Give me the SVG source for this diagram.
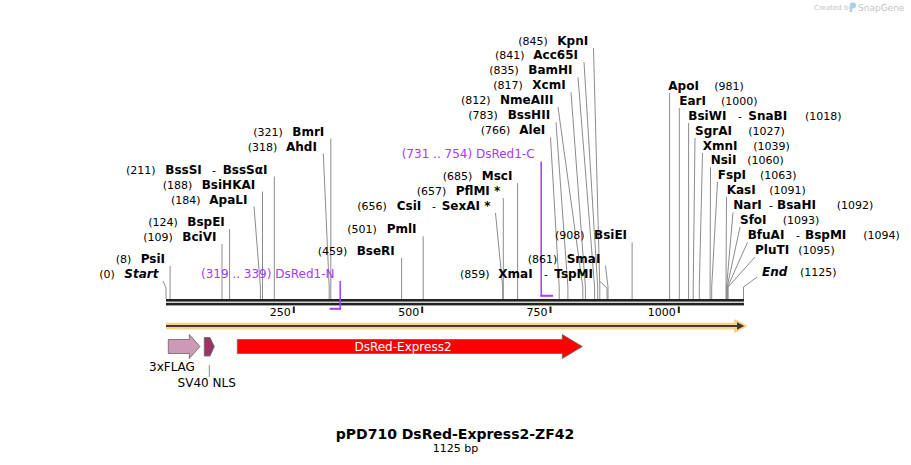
<svg xmlns="http://www.w3.org/2000/svg" width="911" height="465" viewBox="0 0 911 465">
<style>
text{font-family:"DejaVu Sans","Verdana",sans-serif;fill:#000}
.n{font-size:11px}
.b{font-size:12px;font-weight:bold}
.bi{font-size:12px;font-weight:bold;font-style:italic}
.p{font-size:12px;fill:#a03cff}
.ln{stroke:#8c8c8c;stroke-width:1;fill:none}
.pl{stroke:#a03cff;fill:none}
.tk{font-size:11px;text-anchor:end}
.ft{stroke:#666;stroke-width:0.8}
</style>
<rect width="911" height="465" fill="#fff"/>
<g id="watermark">
<text x="814" y="10" style="font-size:7px;fill:#c4c4c4">Created by</text>
<path d="M850,12 V4.5 Q850,2.5 852,2.5 H853 Q856,2.5 856,5.5 Q856,8.5 853,8.5 H852.2 V12 Z" fill="#a9d0ec"/>
<text x="858" y="11" style="font-size:9px;fill:#c4c4c4">SnapGene</text>
</g>
<g id="connectors">
<polyline class="ln" points="163,281 166,288 166,299"/>
<polyline class="ln" points="170.1,266 170.1,299"/>
<polyline class="ln" points="222,244 222,299"/>
<polyline class="ln" points="229.6,229 229.6,299"/>
<polyline class="ln" points="254,206.5 260.4,287 260.4,299"/>
<polyline class="ln" points="262.5,191.5 262.5,299"/>
<polyline class="ln" points="274.3,176.5 274.3,299"/>
<polyline class="ln" points="323.3,153.5 329.2,287 329.2,299"/>
<polyline class="ln" points="330.8,138.5 330.8,299"/>
<polyline class="ln" points="401.6,258 401.6,299"/>
<polyline class="ln" points="423.2,236.3 423.2,299"/>
<polyline class="ln" points="495.5,213 502.7,287 502.7,299"/>
<polyline class="ln" points="503.3,198 503.3,299"/>
<polyline class="ln" points="517.6,183 517.6,299"/>
<polyline class="ln" points="599.5,281 607,288 607,299"/>
<polyline class="ln" points="605.5,265.7 608,287 608,299"/>
<polyline class="ln" points="632.1,242.3 632.1,299"/>
<polyline class="ln" points="593.5,48 599.8,287 599.8,299"/>
<polyline class="ln" points="584,62.3 597.7,287 597.7,299"/>
<polyline class="ln" points="578,77.3 594.6,287 594.6,299"/>
<polyline class="ln" points="571,92.3 585.4,287 585.4,299"/>
<polyline class="ln" points="558,107 582.8,287 582.8,299"/>
<polyline class="ln" points="556,122.3 567.9,287 567.9,299"/>
<polyline class="ln" points="550.5,137.3 559.2,287 559.2,299"/>
<polyline class="ln" points="669.6,93 669.6,299"/>
<polyline class="ln" points="679.3,108 679.3,299"/>
<polyline class="ln" points="688.6,123 688.6,299"/>
<polyline class="ln" points="695,138 693.2,287 693.2,299"/>
<polyline class="ln" points="702.5,153 699.3,287 699.3,299"/>
<polyline class="ln" points="710.5,167.3 710.1,287 710.1,299"/>
<polyline class="ln" points="717.5,182 711.7,287 711.7,299"/>
<polyline class="ln" points="726.5,197 726,287 726,299"/>
<polyline class="ln" points="733,212.3 726.6,287 726.6,299"/>
<polyline class="ln" points="740,227 727.1,287 727.1,299"/>
<polyline class="ln" points="747.5,242.3 727.6,287 727.6,299"/>
<polyline class="ln" points="755,257 728.1,287 728.1,299"/>
<polyline class="ln" points="757,277 743.5,287 743.5,299"/>
<line class="ln" x1="209.3" y1="365" x2="209.3" y2="377"/>
</g>
<g id="backbone">
<rect x="166" y="299" width="578" height="2.6" fill="#222"/>
<rect x="166" y="302.8" width="578" height="2.6" fill="#222"/>
</g>
<g id="primer-DsRed1-N">
<path class="pl" stroke-width="1.5" d="M340.2,281 V309.5"/>
<path class="pl" stroke-width="2" d="M329.7,308.8 H341"/>
<text class="p" x="201" y="278">(319 .. 339)  DsRed1-N</text>
</g>
<g id="primer-DsRed1-C">
<path class="pl" stroke-width="1.5" d="M541.2,161.5 V296.5"/>
<path class="pl" stroke-width="2" d="M540.5,295.8 H553"/>
<text class="p" x="401.7" y="158.3">(731 .. 754)  DsRed1-C</text>
</g>
<g id="ruler">
<rect x="292.8" y="306.5" width="2" height="6.5" fill="#222"/>
<rect x="421.2" y="306.5" width="2" height="6.5" fill="#222"/>
<rect x="549.5" y="306.5" width="2" height="6.5" fill="#222"/>
<rect x="677.8" y="306.5" width="2" height="6.5" fill="#222"/>
<text class="tk" x="290.8" y="316">250</text>
<text class="tk" x="419.2" y="316">500</text>
<text class="tk" x="547.5" y="316">750</text>
<text class="tk" x="675.8" y="316">1000</text>
</g>
<g id="orf-arrow">
<path d="M166,326 H738" stroke="#fcd083" stroke-width="6.5" fill="none"/>
<path d="M735,320.5 L746,326 L735,331.5 Z" fill="#fcd083" stroke="#fcd083" stroke-width="2" stroke-linejoin="round"/>
<path d="M166,326 H738" stroke="#3f3a33" stroke-width="2" fill="none"/>
<path d="M737,322.3 L744.3,326 L737,329.7 Z" fill="#3f3a33"/>
</g>
<g id="feature-3xFLAG">
<polygon class="ft" points="168.3,339.5 189.3,339.5 189.3,334.5 200,346.5 189.3,358.5 189.3,353.5 168.3,353.5" fill="#cc9ab6"/>
<text x="149" y="371" style="font-size:12px">3xFLAG</text>
</g>
<g id="feature-SV40-NLS">
<polygon class="ft" points="204.3,337.5 210,337.5 214.3,346.5 210,356 204.3,356" fill="#9b3462"/>
<text x="206.7" y="387.3" style="font-size:12px;text-anchor:middle">SV40 NLS</text>
</g>
<g id="feature-DsRed-Express2">
<polygon class="ft" points="237.3,339.5 562.3,339.5 562.3,334.5 582.3,346.5 562.3,358.5 562.3,353.5 237.3,353.5" fill="#ff0000"/>
<text x="403" y="350.5" style="font-size:12px;fill:#fff;text-anchor:middle">DsRed-Express2</text>
</g>
<g id="site-Start"><text class="n" x="99.3" y="278">(0)</text><text class="bi" x="124.3" y="278">Start</text></g>
<g id="site-PsiI"><text class="n" x="115.7" y="263">(8)</text><text class="b" x="140.7" y="263">PsiI</text></g>
<g id="site-BciVI"><text class="n" x="143.3" y="241">(109)</text><text class="b" x="182.3" y="241">BciVI</text></g>
<g id="site-BspEI"><text class="n" x="148.3" y="226">(124)</text><text class="b" x="187.3" y="226">BspEI</text></g>
<g id="site-ApaLI"><text class="n" x="171" y="203.5">(184)</text><text class="b" x="209.3" y="203.5">ApaLI</text></g>
<g id="site-BsiHKAI"><text class="n" x="162.7" y="188.5">(188)</text><text class="b" x="201.7" y="188.5">BsiHKAI</text></g>
<g id="site-BssSI"><text class="n" x="126" y="173.5">(211)</text><text class="b" x="165.3" y="173.5">BssSI</text><text class="n" x="212" y="173.5">-</text><text class="b" x="222.7" y="173.5">BssSαI</text></g>
<g id="site-AhdI"><text class="n" x="247.7" y="150.5">(318)</text><text class="b" x="286" y="150.5">AhdI</text></g>
<g id="site-BmrI"><text class="n" x="253.3" y="135.5">(321)</text><text class="b" x="292.3" y="135.5">BmrI</text></g>
<g id="site-BseRI"><text class="n" x="317.7" y="255">(459)</text><text class="b" x="356.7" y="255">BseRI</text></g>
<g id="site-PmlI"><text class="n" x="347.3" y="233.3">(501)</text><text class="b" x="386.7" y="233.3">PmlI</text></g>
<g id="site-CsiI"><text class="n" x="357.3" y="210">(656)</text><text class="b" x="396.7" y="210">CsiI</text><text class="n" x="432" y="210">-</text><text class="b" x="441.7" y="210">SexAI *</text></g>
<g id="site-PflMI"><text class="n" x="416.7" y="195">(657)</text><text class="b" x="455.7" y="195">PflMI *</text></g>
<g id="site-MscI"><text class="n" x="442.7" y="180">(685)</text><text class="b" x="481.7" y="180">MscI</text></g>
<g id="site-XmaI"><text class="n" x="460" y="278.3">(859)</text><text class="b" x="498.3" y="278.3">XmaI</text><text class="n" x="544" y="278.3">-</text><text class="b" x="554.3" y="278.3">TspMI</text></g>
<g id="site-SmaI"><text class="n" x="527.7" y="262.7">(861)</text><text class="b" x="566.7" y="262.7">SmaI</text></g>
<g id="site-BsiEI"><text class="n" x="555" y="239.3">(908)</text><text class="b" x="594" y="239.3">BsiEI</text></g>
<g id="site-KpnI"><text class="n" x="518.3" y="45">(845)</text><text class="b" x="557.3" y="45">KpnI</text></g>
<g id="site-Acc65I"><text class="n" x="495" y="59.3">(841)</text><text class="b" x="533.3" y="59.3">Acc65I</text></g>
<g id="site-BamHI"><text class="n" x="489.3" y="74.3">(835)</text><text class="b" x="528.3" y="74.3">BamHI</text></g>
<g id="site-XcmI"><text class="n" x="493.3" y="89.3">(817)</text><text class="b" x="532.3" y="89.3">XcmI</text></g>
<g id="site-NmeAIII"><text class="n" x="461" y="104">(812)</text><text class="b" x="500" y="104">NmeAIII</text></g>
<g id="site-BssHII"><text class="n" x="468.3" y="119.3">(783)</text><text class="b" x="507.7" y="119.3">BssHII</text></g>
<g id="site-AleI"><text class="n" x="480.7" y="134.3">(766)</text><text class="b" x="519.3" y="134.3">AleI</text></g>
<g id="site-ApoI"><text class="b" x="668.3" y="90">ApoI</text><text class="n" x="714.3" y="90">(981)</text></g>
<g id="site-EarI"><text class="b" x="679.3" y="105">EarI</text><text class="n" x="721" y="105">(1000)</text></g>
<g id="site-BsiWI"><text class="b" x="688.3" y="120">BsiWI</text><text class="n" x="738" y="120">-</text><text class="b" x="748.3" y="120">SnaBI</text><text class="n" x="805" y="120">(1018)</text></g>
<g id="site-SgrAI"><text class="b" x="695" y="135">SgrAI</text><text class="n" x="748.3" y="135">(1027)</text></g>
<g id="site-XmnI"><text class="b" x="702.7" y="150">XmnI</text><text class="n" x="753.3" y="150">(1039)</text></g>
<g id="site-NsiI"><text class="b" x="710.7" y="164.3">NsiI</text><text class="n" x="747.3" y="164.3">(1060)</text></g>
<g id="site-FspI"><text class="b" x="717.7" y="179">FspI</text><text class="n" x="760" y="179">(1063)</text></g>
<g id="site-KasI"><text class="b" x="726.7" y="194">KasI</text><text class="n" x="769.3" y="194">(1091)</text></g>
<g id="site-NarI"><text class="b" x="733.3" y="209.3">NarI</text><text class="n" x="769" y="209.3">-</text><text class="b" x="777" y="209.3">BsaHI</text><text class="n" x="836.7" y="209.3">(1092)</text></g>
<g id="site-SfoI"><text class="b" x="740" y="224">SfoI</text><text class="n" x="782.7" y="224">(1093)</text></g>
<g id="site-BfuAI"><text class="b" x="747.7" y="239.3">BfuAI</text><text class="n" x="796" y="239.3">-</text><text class="b" x="805" y="239.3">BspMI</text><text class="n" x="863.3" y="239.3">(1094)</text></g>
<g id="site-PluTI"><text class="b" x="755" y="254">PluTI</text><text class="n" x="798.3" y="254">(1095)</text></g>
<g id="site-End"><text class="bi" x="762" y="276">End</text><text class="n" x="800" y="276">(1125)</text></g>
<g id="title">
<text x="455" y="438.5" style="font-size:14px;font-weight:bold;text-anchor:middle">pPD710 DsRed-Express2-ZF42</text>
<text x="455.5" y="451.5" style="font-size:11px;text-anchor:middle">1125 bp</text>
</g>
</svg>
